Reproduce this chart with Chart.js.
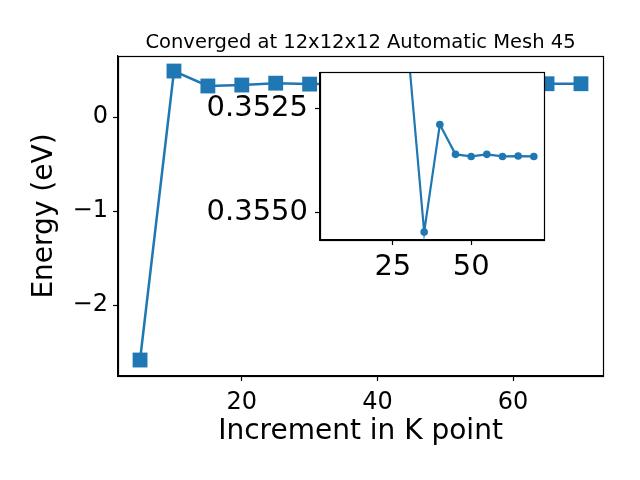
<!DOCTYPE html>
<html>
<head>
<meta charset="utf-8">
<script src="https://cdn.jsdelivr.net/npm/chart.js@4/dist/chart.umd.min.js"></script>
<style>
  html, body { margin: 0; padding: 0; background: #fff; }
  #wrap { position: relative; width: 640px; height: 480px; }
  #mainChart { position: absolute; left: 0; top: 0; }
  #insetChart { position: absolute; left: 180px; top: 48px; }
</style>
</head>
<body>
<div id="wrap">
  <canvas id="mainChart" width="640" height="480"></canvas>
  <canvas id="insetChart" width="380" height="242"></canvas>
</div>
<script>
// main series: k-point increment vs energy
const kPoints = [5, 10, 15, 20, 25, 30, 35, 40, 45, 50, 55, 60, 65, 70];
const energy = [-2.585, 0.489, 0.33, 0.34, 0.36, 0.35, 0.354, 0.354, 0.354, 0.354, 0.354, 0.354, 0.354, 0.354];
const mainXTicks = [20, 40, 60];
const mainYTicks = [-2, -1, 0];

// inset series (zoomed, inverted axis)
const insetK = [30, 35, 40, 45, 50, 55, 60, 65, 70];
const insetEnergy = [0.3512, 0.35548, 0.35289, 0.35361, 0.35366, 0.35361, 0.35366, 0.35365, 0.35366];
const insetXTicks = [25, 50];
const insetYTicks = [0.3525, 0.3550];

const titleText = 'Converged at 12x12x12 Automatic Mesh 45';
const blue = '#1f77b4';
const fontFamily = '"DejaVu Sans", sans-serif';

Chart.defaults.font.family = fontFamily;
Chart.defaults.color = '#000';

const minus = v => String(v).replace('-', '\u2212');

// full box around the plot area, plus optional white fill under it
const frame = {
    id: 'frame',
    beforeDraw(chart, args, opts) {
        if (!opts.fill) return;
        const a = chart.chartArea;
        chart.ctx.save();
        chart.ctx.fillStyle = '#fff';
        chart.ctx.fillRect(a.left, a.top, a.right - a.left, a.bottom - a.top);
        chart.ctx.restore();
    },
    afterDraw(chart) {
        const a = chart.chartArea;
        const ctx = chart.ctx;
        ctx.save();
        ctx.strokeStyle = '#000';
        ctx.lineWidth = 1.2;
        ctx.strokeRect(Math.round(a.left) + 0.5, Math.round(a.top) + 0.5,
                       Math.round(a.right - a.left), Math.round(a.bottom - a.top));
        ctx.restore();
    }
};

const topTitle = {
    id: 'topTitle',
    afterDraw(chart) {
        const a = chart.chartArea;
        const ctx = chart.ctx;
        ctx.save();
        ctx.font = '19.5px ' + fontFamily;
        ctx.fillStyle = '#000';
        ctx.textAlign = 'center';
        ctx.textBaseline = 'alphabetic';
        ctx.fillText(titleText, (a.left + a.right) / 2, 48);
        ctx.restore();
    }
};

function axisStyle(tickSize) {
    return {
        grid: { drawOnChartArea: false, drawTicks: true, tickLength: 5, color: '#000', tickWidth: 1.2 },
        border: { display: true, color: '#000', width: 1.2 },
        ticks: { font: { size: tickSize }, color: '#000', padding: 5, maxRotation: 0 }
    };
}

const mx = axisStyle(24);
const my = axisStyle(24);

new Chart(document.getElementById('mainChart'), {
    type: 'line',
    data: {
        datasets: [{
            data: kPoints.map((k, i) => ({ x: k, y: energy[i] })),
            borderColor: blue,
            backgroundColor: blue,
            borderWidth: 2.5,
            pointStyle: 'rect',
            pointRadius: 10.5,
            pointBorderWidth: 0,
            tension: 0
        }]
    },
    options: {
        responsive: false,
        animation: false,
        events: [],
        layout: { padding: { top: 56, right: 37, left: 0, bottom: 0 } },
        plugins: { legend: { display: false }, tooltip: { enabled: false }, frame: {} },
        scales: {
            x: {
                type: 'linear', min: 1.75, max: 73.25,
                ...mx,
                ticks: { ...mx.ticks, padding: 7, callback: v => minus(v) },
                afterBuildTicks: s => { s.ticks = mainXTicks.map(v => ({ value: v })); },
                afterFit: s => { s.height = 104; },
                title: { display: true, text: 'Increment in K point', font: { size: 28 }, color: '#000', padding: { top: 0, bottom: 31 } }
            },
            y: {
                type: 'linear', min: -2.755, max: 0.649,
                ...my,
                ticks: { ...my.ticks, callback: v => minus(v) },
                afterBuildTicks: s => { s.ticks = mainYTicks.map(v => ({ value: v })); },
                afterFit: s => { s.width = 118; },
                title: { display: true, text: 'Energy (eV)', font: { size: 28 }, color: '#000', padding: { top: 28, bottom: 0 } }
            }
        }
    },
    plugins: [frame, topTitle]
});

const ix = axisStyle(29);
const iy = axisStyle(29);

new Chart(document.getElementById('insetChart'), {
    type: 'line',
    data: {
        datasets: [{
            data: insetK.map((k, i) => ({ x: k, y: insetEnergy[i] })),
            borderColor: blue,
            backgroundColor: blue,
            borderWidth: 2.2,
            pointRadius: 3.8,
            pointBorderWidth: 0,
            tension: 0
        }]
    },
    options: {
        responsive: false,
        animation: false,
        events: [],
        layout: { padding: { top: 12, right: 16, left: 0, bottom: 0 } },
        plugins: { legend: { display: false }, tooltip: { enabled: false }, frame: { fill: true } },
        scales: {
            x: {
                type: 'linear', min: 1.75, max: 73.25,
                ...ix,
                afterBuildTicks: s => { s.ticks = insetXTicks.map(v => ({ value: v })); },
                afterFit: s => { s.height = 50; }
            },
            y: {
                type: 'linear', min: 0.351635, max: 0.355673, reverse: true,
                ...iy,
                ticks: { ...iy.ticks, padding: 7, callback: v => v.toFixed(4) },
                afterBuildTicks: s => { s.ticks = insetYTicks.map(v => ({ value: v })); },
                afterFit: s => { s.width = 140; }
            }
        }
    },
    plugins: [frame]
});
</script>
</body>
</html>
